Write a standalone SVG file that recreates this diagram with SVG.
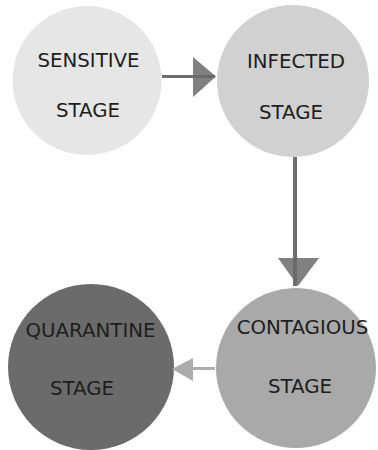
<svg xmlns="http://www.w3.org/2000/svg" width="378" height="450" viewBox="0 0 378 450">
<style>
.lbl{font-family:"DejaVu Sans",Verdana,sans-serif;font-size:19.8px;fill:#1e1e1e;text-anchor:middle}
</style>
<rect width="378" height="450" fill="#ffffff"/>
<g id="sensitive">
<circle cx="87" cy="80.5" r="74.5" fill="#e6e6e6"/>
<text class="lbl" x="88.5" y="67">SENSITIVE</text>
<text class="lbl" x="88" y="117">STAGE</text>
</g>
<g id="infected">
<circle cx="293" cy="81" r="76" fill="#d1d1d1"/>
<text class="lbl" x="296" y="68">INFECTED</text>
<text class="lbl" x="291" y="119">STAGE</text>
</g>
<g id="contagious">
<circle cx="296" cy="368" r="80" fill="#a9a9a9"/>
<text class="lbl" x="302.5" y="334">CONTAGIOUS</text>
<text class="lbl" x="300" y="393">STAGE</text>
</g>
<g id="quarantine">
<circle cx="91" cy="367" r="83" fill="#6b6b6b"/>
<text class="lbl" x="90.5" y="337">QUARANTINE</text>
<text class="lbl" x="82" y="395">STAGE</text>
</g>
<g id="connectors">
<line x1="162" y1="76.5" x2="215" y2="76.5" stroke="#6e6e6e" stroke-width="3"/>
<polygon points="193,57 216,76.5 193,97" fill="#6a6a6a" fill-opacity="0.85"/>
<line x1="295" y1="157" x2="295" y2="286" stroke="#6e6e6e" stroke-width="4"/>
<polygon points="278,258 319,258 298,286" fill="#6a6a6a" fill-opacity="0.85"/>
<line x1="215" y1="368.5" x2="180" y2="368.5" stroke="#acacac" stroke-width="3"/>
<polygon points="193,358 193,381 172,369" fill="#acacac"/>
</g>
</svg>
